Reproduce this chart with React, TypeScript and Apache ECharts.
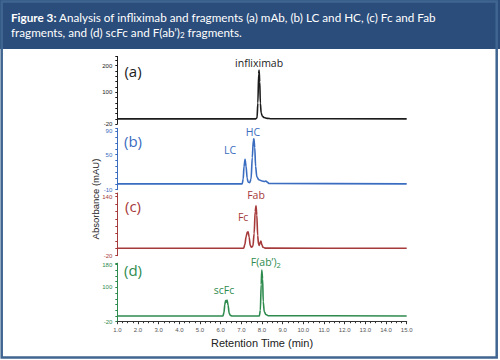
import React, { useEffect, useRef } from "react";
import * as echarts from "echarts";

// Retention time (min) vs absorbance (mAU)
const traceA: [number, number][] = [
  [1.0, 0], [7.7, 0], [7.76, 4], [7.8, 60], [7.84, 170], [7.86, 184], [7.89, 140], [7.92, 60],
  [7.96, 22], [8.02, 10], [8.1, 5], [8.25, 2], [8.45, 0.5], [15.0, 0],
];
const traceB: [number, number][] = [
  [1.0, 0], [7.04, 0], [7.09, 8], [7.13, 30], [7.18, 42], [7.23, 30], [7.28, 10], [7.33, 3],
  [7.4, 2], [7.47, 8], [7.53, 45], [7.58, 74], [7.61, 77], [7.65, 62], [7.69, 30], [7.75, 12],
  [7.85, 7], [8.0, 5], [8.12, 4], [8.19, 5], [8.25, 3], [8.35, 0.5], [15.0, 0],
];
const traceC: [number, number][] = [
  [1.0, 0], [7.11, 0], [7.17, 10], [7.23, 32], [7.29, 44], [7.33, 45], [7.38, 30], [7.43, 8],
  [7.49, 3], [7.56, 6], [7.62, 40], [7.67, 100], [7.71, 115], [7.75, 90], [7.79, 35], [7.83, 12],
  [7.87, 8], [7.91, 16], [7.95, 20], [7.99, 10], [8.05, 3], [8.15, 0.5], [15.0, 0],
];
const traceD: [number, number][] = [
  [1.0, 0], [6.11, 0], [6.16, 12], [6.2, 40], [6.24, 54], [6.27, 48], [6.31, 56], [6.36, 38],
  [6.41, 10], [6.47, 2], [6.56, 0], [7.87, 0], [7.92, 20], [7.96, 110], [7.99, 161], [8.03, 130],
  [8.06, 50], [8.11, 15], [8.19, 5], [8.3, 1], [15.0, 0],
];

const panelNames = ["(a)", "(b)", "(c)", "(d)"];
const panelColors = ["#1c1c1c", "#3a6cc0", "#a63a3a", "#2e8b4e"];
const yMins = [-20, -10, -20, -20];
const yMaxs = [235, 95, 150, 185];
const yIntervals = [20, 10, 20, 20];
const yTickLabels = [[200, 100, -20], [90, 50, -10], [140, -20], [180, 100, -20]];
const xMin = 1;
const xMax = 15;

// peak annotations: [panel, time, absorbance, label, dx, dy]
const peakLabels: [number, number, number, string, number, number][] = [
  [0, 7.86, 184, "infliximab", 0, -7],
  [1, 7.18, 42, "LC", -15, -9],
  [1, 7.61, 77, "HC", -1, -7],
  [2, 7.33, 45, "Fc", -5, -15],
  [2, 7.71, 115, "Fab", 0, -11],
  [3, 6.31, 56, "scFc", -3, -10],
  [3, 7.99, 161, "F(ab’){sub|2}", 4, -8],
];

const traces = [traceA, traceB, traceC, traceD];
const gridTops = [56.4, 128.3, 193, 263.2];
const gridHeights = [67.8, 61.4, 62.7, 58.5];

export default function App() {
  const ref = useRef<HTMLDivElement>(null);
  useEffect(() => {
    if (!ref.current) return;
    const chart = echarts.init(ref.current, null, { renderer: "svg" });
    const font = "Liberation Sans";
    const grids = gridTops.map((t, i) => ({ left: 117.3, width: 289.4, top: t, height: gridHeights[i] }));
    const xAxes = grids.map((_, i) => ({
      type: "value",
      gridIndex: i,
      min: xMin,
      max: xMax,
      interval: 1,
      show: i === 3,
      axisLine: { show: true, onZero: false, lineStyle: { color: "#333", width: 1 } },
      axisTick: { show: true, length: 2.5, lineStyle: { color: "#333" } },
      minorTick: { show: true, splitNumber: 4, length: 1.5, lineStyle: { color: "#333" } },
      splitLine: { show: false },
      axisLabel: { fontSize: 6, color: "#555", fontFamily: font, margin: 5, formatter: (v: number) => v.toFixed(1) },
      name: i === 3 ? "Retention Time (min)" : "",
      nameLocation: "middle",
      nameGap: 16,
      nameTextStyle: { fontSize: 11, color: "#222", fontFamily: font },
    }));
    const yAxes = grids.map((_, i) => ({
      type: "value",
      gridIndex: i,
      min: yMins[i],
      max: yMaxs[i],
      interval: yIntervals[i],
      axisLine: { show: true, lineStyle: { color: panelColors[i], width: 1 } },
      axisTick: { show: true, length: 2, lineStyle: { color: panelColors[i] } },
      splitLine: { show: false },
      axisLabel: {
        fontSize: 6,
        color: panelColors[i],
        fontFamily: font,
        margin: 5,
        showMaxLabel: true,
        formatter: (v: number) => (yTickLabels[i].includes(v) ? String(v) : ""),
      },
    }));
    const series = traces.map((tr, i) => ({
      type: "line",
      xAxisIndex: i,
      yAxisIndex: i,
      data: tr,
      showSymbol: false,
      smooth: 0.3,
      smoothMonotone: "x",
      lineStyle: { color: panelColors[i], width: 1.6 },
      markPoint: {
        symbol: "circle",
        symbolSize: 1,
        itemStyle: { color: "rgba(0,0,0,0)" },
        label: {
          show: true,
          position: "inside",
          fontSize: 10.5,
          fontFamily: "Open Sans",
          rich: { sub: { fontSize: 7.5, padding: [6, 0, 0, 0], fontFamily: "Open Sans", color: panelColors[i] } },
        },
        data: peakLabels
          .filter((p) => p[0] === i)
          .map((p) => ({
            coord: [p[1], p[2]],
            label: { formatter: p[3], offset: [p[4], p[5]], color: panelColors[i] },
          })),
      },
    }));
    const panelTextY = [70.8, 141, 206, 270];
    chart.setOption({
      animation: false,
      backgroundColor: "#fff",
      grid: grids,
      xAxis: xAxes,
      yAxis: yAxes,
      series,
      graphic: [
        { type: "rect", shape: { x: 0, y: 0, width: 500, height: 49 }, style: { fill: "#2b4d7b" } },
        { type: "rect", shape: { x: 1.7, y: 1.5, width: 495, height: 356 }, style: { fill: "none", stroke: "#3f6590", lineWidth: 2.5 } },
        {
          type: "text",
          x: 11,
          y: 9,
          style: {
            text: "{b|Figure 3:} Analysis of infliximab and fragments (a) mAb, (b) LC and HC, (c) Fc and Fab\nfragments, and (d) scFc and F(ab’){s|2} fragments.",
            fill: "#fff",
            fontSize: 11.7,
            fontFamily: "Lato",
            lineHeight: 15.5,
            rich: {
              b: { fontWeight: "bold", fontSize: 11.7, fontFamily: "Lato", fill: "#fff", lineHeight: 15.5 },
              s: { fontSize: 8, fontFamily: "Lato", fill: "#fff", padding: [6, 0, 0, 0], lineHeight: 15.5 },
            },
          },
        },
        {
          type: "text",
          x: 95,
          y: 199,
          rotation: Math.PI / 2,
          style: { text: "Absorbance (mAU)", fontSize: 9.5, fontFamily: font, fill: "#222", align: "center", verticalAlign: "middle" },
        },
        ...panelNames.map((n, i) => ({
          type: "text",
          x: 133,
          y: panelTextY[i],
          style: { text: n, fontSize: 15, fontFamily: "Open Sans", fill: panelColors[i], align: "center", verticalAlign: "middle" },
        })),
      ],
    });
    return () => chart.dispose();
  }, []);
  return <div ref={ref} style={{ position: "fixed", left: 0, top: 0, width: 500, height: 360 }} />;
}
